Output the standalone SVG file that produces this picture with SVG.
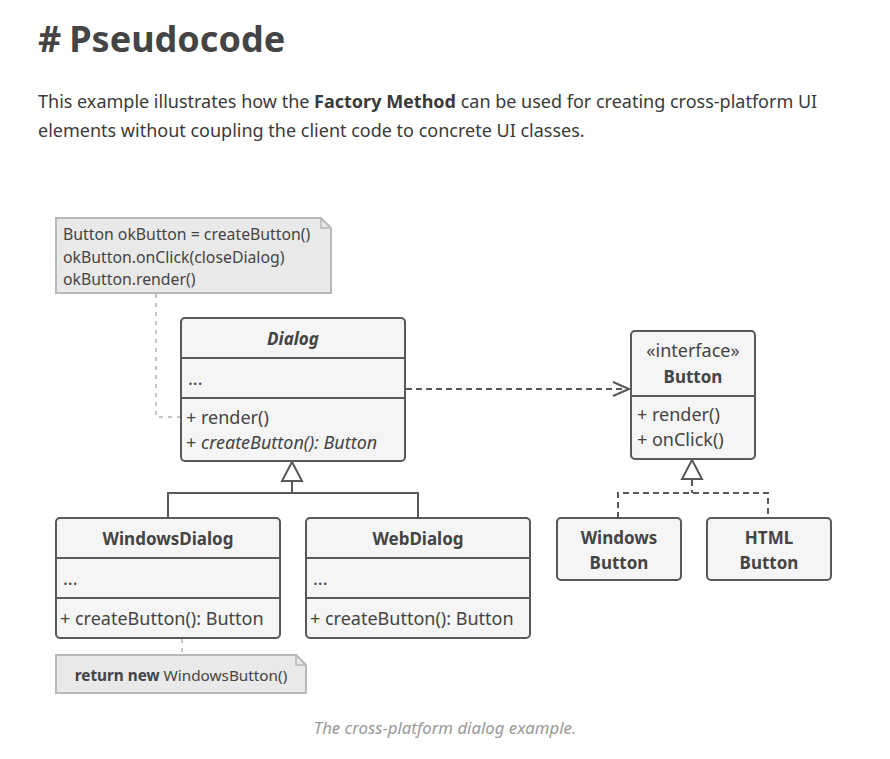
<svg xmlns="http://www.w3.org/2000/svg" width="890" height="759" viewBox="0 0 890 759">
<style>
text{font-family:"Noto Sans","Open Sans","DejaVu Sans",sans-serif;fill:#444}
.box{fill:#f5f5f5;stroke:#595959;stroke-width:2}
.sep{stroke:#595959;stroke-width:2}
.note{fill:#e9e9e9;stroke:#b8b8b8;stroke-width:2}
.t{font-size:18px}
.tb{font-size:17px;font-weight:bold}
.nt{font-size:15.8px}
.b{font-weight:bold}
.i{font-style:italic}
.c{text-anchor:middle}
.line{fill:none;stroke:#595959;stroke-width:2}
.dash{fill:none;stroke:#595959;stroke-width:2;stroke-dasharray:6 4}
.dot{fill:none;stroke:#c4c4c4;stroke-width:2;stroke-dasharray:4 5}
</style>
<defs>
<marker id="open" markerWidth="20" markerHeight="16" refX="18" refY="8" orient="auto" markerUnits="userSpaceOnUse">
<path d="M2,1 L18,8 L2,15" fill="none" stroke="#595959" stroke-width="2"/>
</marker>
</defs>
<rect width="890" height="759" fill="#fff"/>
<text x="38" y="52" font-size="36" class="b" style="fill:#444">#<tspan dx="8">Pseudocode</tspan></text>
<text x="38" y="108" font-size="18" style="fill:#3a3a3a">This example illustrates how the <tspan class="b">Factory Method</tspan> can be used for creating cross-platform UI</text>
<text x="38" y="137" font-size="18" style="fill:#3a3a3a">elements without coupling the client code to concrete UI classes.</text>

<g id="connectors">
<path class="dot" d="M156,294 V417 H180"/>
<path class="dash" d="M406,389 H629" marker-end="url(#open)"/>
<path class="line" d="M292,481 V493 M168,518 V493 H418 V518"/>
<path class="line" d="M292,462 L282,481 H302 Z" style="fill:#fff"/>
<path class="dash" d="M692,480 V493 M618,518 V493 H768 V518"/>
<path class="line" d="M692,460 L682,479 H702 Z" style="fill:#fff"/>
<path class="dot" d="M182,639 V655"/>
</g>

<g id="note-client">
<path class="note" d="M56,218 H321 L331,228 V293 H56 Z"/>
<path d="M321,218 V228 H331" fill="none" stroke="#b8b8b8" stroke-width="1.5"/>
<text x="63" y="240" class="nt">Button okButton = createButton()</text>
<text x="63" y="263" class="nt">okButton.onClick(closeDialog)</text>
<text x="63" y="285" class="nt">okButton.render()</text>
</g>

<g id="Dialog">
<rect class="box" x="181" y="318" width="224" height="143" rx="4"/>
<line class="sep" x1="181" y1="358" x2="405" y2="358"/>
<line class="sep" x1="181" y1="398" x2="405" y2="398"/>
<text x="293" y="345" class="tb i c">Dialog</text>
<text x="188" y="385" class="t">...</text>
<text x="186" y="424" class="t">+ render()</text>
<text x="186" y="449" class="t">+ <tspan class="i">createButton(): Button</tspan></text>
</g>

<g id="ButtonInterface">
<rect class="box" x="631" y="331" width="124" height="128" rx="4"/>
<line class="sep" x1="631" y1="396" x2="755" y2="396"/>
<text x="693" y="357" class="t c">«interface»</text>
<text x="693" y="383" class="tb c">Button</text>
<text x="637" y="421" class="t">+ render()</text>
<text x="637" y="446" class="t">+ onClick()</text>
</g>

<g id="WindowsDialog">
<rect class="box" x="56" y="518" width="224" height="120" rx="4"/>
<line class="sep" x1="56" y1="558" x2="280" y2="558"/>
<line class="sep" x1="56" y1="598" x2="280" y2="598"/>
<text x="168" y="545" class="tb c">WindowsDialog</text>
<text x="63" y="585" class="t">...</text>
<text x="60" y="625" class="t">+ createButton(): Button</text>
</g>

<g id="WebDialog">
<rect class="box" x="306" y="518" width="224" height="120" rx="4"/>
<line class="sep" x1="306" y1="558" x2="530" y2="558"/>
<line class="sep" x1="306" y1="598" x2="530" y2="598"/>
<text x="418" y="545" class="tb c">WebDialog</text>
<text x="313" y="585" class="t">...</text>
<text x="310" y="625" class="t">+ createButton(): Button</text>
</g>

<g id="WindowsButton">
<rect class="box" x="557" y="518" width="124" height="62" rx="4"/>
<text x="619" y="544" class="tb c">Windows</text>
<text x="619" y="569" class="tb c">Button</text>
</g>

<g id="HTMLButton">
<rect class="box" x="707" y="518" width="124" height="62" rx="4"/>
<text x="769" y="544" class="tb c">HTML</text>
<text x="769" y="569" class="tb c">Button</text>
</g>

<g id="note-return">
<path class="note" d="M56,655 H296 L306,665 V693 H56 Z"/>
<path d="M296,655 V665 H306" fill="none" stroke="#b8b8b8" stroke-width="1.5"/>
<text x="181" y="681" class="c" font-size="15.3"><tspan class="b">return new</tspan> WindowsButton()</text>
</g>

<text x="445" y="734" font-size="16.8" class="i c" style="fill:#999">The cross-platform dialog example.</text>
</svg>
